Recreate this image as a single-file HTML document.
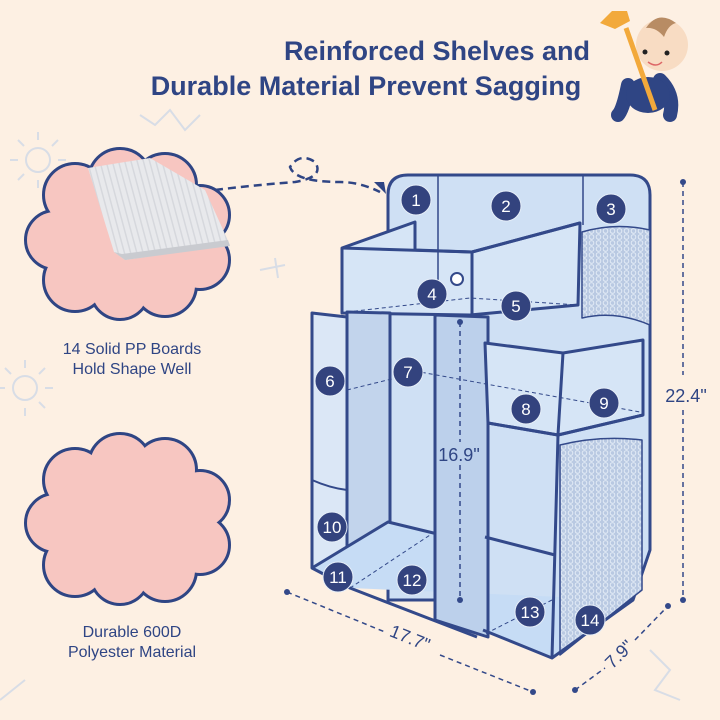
<!DOCTYPE html>
<html><head><meta charset="utf-8"><style>
html,body{margin:0;padding:0;background:#fdf0e3;}
svg{display:block}
text{font-family:"Liberation Sans","DejaVu Sans",sans-serif}
</style></head><body>
<svg width="720" height="720" viewBox="0 0 720 720" xmlns="http://www.w3.org/2000/svg">
<defs>
<pattern id="mesh" width="7" height="6" patternUnits="userSpaceOnUse">
<rect width="7" height="6" fill="#b9c9e2"/>
<circle cx="3.5" cy="3" r="2.3" fill="none" stroke="#e6eef8" stroke-width="0.9"/>
</pattern>
<pattern id="stripe" width="6" height="6" patternUnits="userSpaceOnUse" patternTransform="rotate(-15)">
<rect width="6" height="6" fill="#e8e9ec"/>
<rect width="1.5" height="6" fill="#d6d8dd"/>
</pattern>
</defs>
<rect width="720" height="720" fill="#fdf0e3"/>
<g stroke="#d8dde6" stroke-width="2" fill="none">
<circle cx="38" cy="160" r="12"/>
<path d="M18 160h-8M58 160h8M38 140v-8M38 180v8M24 146l-6-6M52 146l6-6M24 174l-6 6M52 174l6 6"/>
<circle cx="25" cy="388" r="12"/>
<path d="M5 388h-6M45 388h8M25 368v-8M25 408v8M11 374l-6-6M39 374l6-6M39 402l6 6"/>
<path d="M260 270l25 -5M275 258l3 20"/>
<path d="M140 115l15 10l15-15l15 20l15-15"/>
<path d="M0 700l25-20"/>
<path d="M650 650l20 20l-15 20l25 10"/>
</g>
<text x="437" y="60" text-anchor="middle" font-size="27" font-weight="bold" fill="#2f4584">Reinforced Shelves and</text>
<text x="366" y="95" text-anchor="middle" font-size="27" font-weight="bold" fill="#2f4584">Durable Material Prevent Sagging</text>
<g>
<path d="M628 85 q-5 25 -10 30 M660 80 q15 15 10 35" stroke="#2f4584" stroke-width="14" fill="none" stroke-linecap="round"/>
<ellipse cx="648" cy="95" rx="22" ry="18" fill="#2f4584"/>
<circle cx="662" cy="45" r="26" fill="#f8dcc3"/>
<path d="M646 28 q12-18 30 -5 q-8 2-12 14 q-8-10-18-9z" fill="#b88c64"/>
<circle cx="645" cy="52" r="2.5" fill="#222"/><circle cx="667" cy="53" r="2.5" fill="#222"/>
<path d="M648 62 q8 6 14 0" stroke="#d66" stroke-width="1.5" fill="none"/>
<line x1="626" y1="28" x2="655" y2="110" stroke="#f2a93b" stroke-width="5"/>
<path d="M600 23 l12-12 l15 0 l3 10 l-15 8z" fill="#f2a93b"/>
</g>
<g>
<g stroke="#2f4584" stroke-width="6" fill="#f5c4c0">
<circle cx="75" cy="195" r="30"/><circle cx="120" cy="180" r="30"/><circle cx="165" cy="185" r="30"/><circle cx="200" cy="215" r="28"/>
<circle cx="200" cy="260" r="28"/><circle cx="165" cy="285" r="30"/><circle cx="120" cy="290" r="28"/><circle cx="75" cy="280" r="30"/><circle cx="55" cy="240" r="28"/>
</g>
<g fill="#f7c6c1">
<circle cx="75" cy="195" r="30"/><circle cx="120" cy="180" r="30"/><circle cx="165" cy="185" r="30"/><circle cx="200" cy="215" r="28"/>
<circle cx="200" cy="260" r="28"/><circle cx="165" cy="285" r="30"/><circle cx="120" cy="290" r="28"/><circle cx="75" cy="280" r="30"/><circle cx="55" cy="240" r="28"/>
<ellipse cx="130" cy="237" rx="80" ry="60"/>
</g>
<path d="M88 168 L150 158 L205 190 L230 245 L125 260 L114 252 Z" fill="url(#stripe)"/>
<path d="M114 252 L125 260 L230 246 L228 240 L122 254z" fill="#c9cbd0"/>
</g>
<path d="M215 190 q40 -5 80 -8 q30 -5 20 -20 q-15 -10 -25 5 q5 15 50 15 q20 0 40 10" stroke="#2f4584" stroke-width="2.5" stroke-dasharray="8 5" fill="none"/>
<path d="M374 182 l12 12 l-2-12z" fill="#2f4584"/>
<text x="132" y="354" text-anchor="middle" font-size="16" fill="#2f4584">14 Solid PP Boards</text>
<text x="132" y="374" text-anchor="middle" font-size="16" fill="#2f4584">Hold Shape Well</text>
<g>
<g stroke="#2f4584" stroke-width="6">
<circle cx="75" cy="480" r="30"/><circle cx="120" cy="465" r="30"/><circle cx="165" cy="470" r="30"/><circle cx="200" cy="500" r="28"/>
<circle cx="200" cy="545" r="28"/><circle cx="165" cy="570" r="30"/><circle cx="120" cy="575" r="28"/><circle cx="75" cy="565" r="30"/><circle cx="55" cy="523" r="28"/>
</g>
<g fill="#f7c6c1">
<circle cx="75" cy="480" r="30"/><circle cx="120" cy="465" r="30"/><circle cx="165" cy="470" r="30"/><circle cx="200" cy="500" r="28"/>
<circle cx="200" cy="545" r="28"/><circle cx="165" cy="570" r="30"/><circle cx="120" cy="575" r="28"/><circle cx="75" cy="565" r="30"/><circle cx="55" cy="523" r="28"/>
<ellipse cx="130" cy="522" rx="80" ry="60"/>
</g>
</g>
<text x="132" y="637" text-anchor="middle" font-size="16" fill="#2f4584">Durable 600D</text>
<text x="132" y="657" text-anchor="middle" font-size="16" fill="#2f4584">Polyester Material</text>
<g stroke="#33498a" stroke-width="3" stroke-linejoin="round">
<path d="M388 600 L388 195 Q388 175 408 175 L630 175 Q650 175 650 195 L650 550 L633 600 Z" fill="#cfe0f4"/>
<path d="M582 232 Q615 222 650 230 L650 325 Q615 310 582 318 Z" fill="url(#mesh)" stroke-width="1.5"/>
<path d="M342 248 L415 222 L415 250 L472 252 L580 223 L578 305 L470 315 L342 313 Z" fill="#d6e5f6"/>
<path d="M342 248 L472 252 L472 315 M472 252 L580 223" fill="none"/>
<line x1="438" y1="176" x2="438" y2="300" stroke-width="1.5"/>
<line x1="583" y1="176" x2="583" y2="225" stroke-width="1.5"/>
<circle cx="457" cy="279" r="6" fill="#fff" stroke-width="2"/>
<path d="M312 313 L347 317 L347 555 L312 568 Z" fill="#dbe7f6"/>
<path d="M347 312 L390 313 L390 545 L347 555 Z" fill="#c2d4ec"/>
<path d="M312 568 L388 522 L483 548 L483 630 L552 658 L633 600 L350 588 Z" fill="#c6dcf5" stroke="none"/>
<path d="M312 568 L350 588 L477 637 M312 568 L388 522 L483 545" fill="none"/>
<path d="M435 315 L488 317 L488 637 L435 620 Z" fill="#bcd0eb"/>
<path d="M485 343 L563 353 L643 340 L643 415 L558 435 L488 423 Z" fill="#d6e5f6"/>
<path d="M488 423 L558 435 L643 415 M563 353 L558 435" fill="none"/>
<path d="M560 445 Q600 435 642 440 L642 590 L560 655 Z" fill="url(#mesh)" stroke-width="1.5"/>
<path d="M558 435 L552 658 M483 630 L552 658 L633 600 M485 537 L555 555" fill="none"/>
<path d="M312 480 Q330 488 347 490 M312 313 L312 568" fill="none" stroke-width="2"/>
</g>
<g stroke="#33498a" stroke-width="1" stroke-dasharray="4 3" fill="none">
<path d="M347 312 L470 298 L578 305"/><path d="M347 390 L420 372 L640 412"/>
<path d="M350 588 L430 535"/><path d="M552 600 L483 635"/>
</g>
<g stroke="#33498a" stroke-width="1.5" stroke-dasharray="5 4" fill="none">
<line x1="460" y1="322" x2="460" y2="442"/><line x1="460" y1="465" x2="460" y2="600"/>
<line x1="683" y1="182" x2="683" y2="375"/><line x1="683" y1="410" x2="683" y2="600"/>
<line x1="287" y1="592" x2="385" y2="632"/><line x1="440" y1="655" x2="533" y2="692"/>
<line x1="575" y1="690" x2="605" y2="668"/><line x1="635" y1="640" x2="668" y2="606"/>
</g>
<g fill="#33498a"><circle cx="460" cy="322" r="3"/><circle cx="460" cy="600" r="3"/><circle cx="683" cy="182" r="3"/><circle cx="683" cy="600" r="3"/><circle cx="287" cy="592" r="3"/><circle cx="533" cy="692" r="3"/><circle cx="575" cy="690" r="3"/><circle cx="668" cy="606" r="3"/></g>
<text x="459" y="461" text-anchor="middle" font-size="18" fill="#2f4584">16.9"</text>
<text x="686" y="402" text-anchor="middle" font-size="18" fill="#2f4584">22.4"</text>
<text x="410" y="644" text-anchor="middle" font-size="18" fill="#2f4584" transform="rotate(22 410 638)">17.7"</text>
<text x="620" y="660" text-anchor="middle" font-size="18" fill="#2f4584" transform="rotate(-45 620 655)">7.9"</text>
<g fill="#33437e" stroke="#e6eef8" stroke-width="1">
<circle cx="416" cy="200" r="15"/><circle cx="506" cy="206" r="15"/><circle cx="611" cy="209" r="15"/><circle cx="432" cy="294" r="15"/><circle cx="516" cy="306" r="15"/><circle cx="330" cy="381" r="15"/><circle cx="408" cy="372" r="15"/><circle cx="526" cy="409" r="15"/><circle cx="604" cy="403" r="15"/><circle cx="332" cy="527" r="15"/><circle cx="338" cy="577" r="15"/><circle cx="412" cy="580" r="15"/><circle cx="530" cy="612" r="15"/><circle cx="590" cy="620" r="15"/>
</g>
<g fill="#fff" font-size="17" text-anchor="middle">
<text x="416" y="206">1</text><text x="506" y="212">2</text><text x="611" y="215">3</text><text x="432" y="300">4</text><text x="516" y="312">5</text><text x="330" y="387">6</text><text x="408" y="378">7</text><text x="526" y="415">8</text><text x="604" y="409">9</text><text x="332" y="533">10</text><text x="338" y="583">11</text><text x="412" y="586">12</text><text x="530" y="618">13</text><text x="590" y="626">14</text>
</g>
</svg>
</body></html>
